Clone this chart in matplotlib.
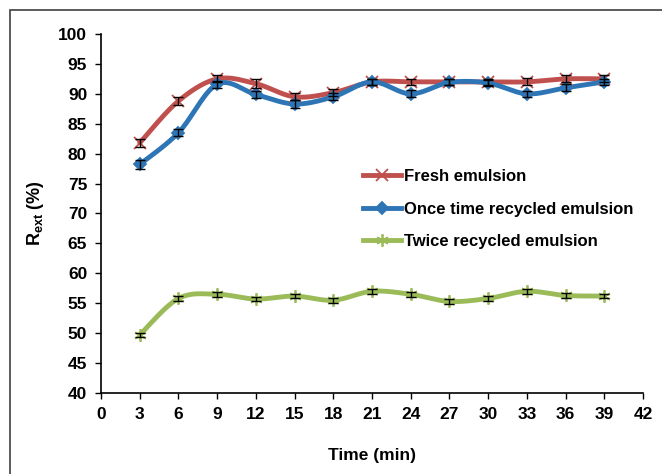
import numpy as np
import matplotlib
matplotlib.use("Agg")
import matplotlib.pyplot as plt
from matplotlib.patches import Rectangle

plt.rcParams['font.family'] = 'Liberation Sans'
plt.rcParams['font.weight'] = 'bold'
plt.rcParams['mathtext.fontset'] = 'custom'
plt.rcParams['mathtext.bf'] = 'Liberation Sans:bold'

# data
time = [3, 6, 9, 12, 15, 18, 21, 24, 27, 30, 33, 36, 39]
fresh = [81.8, 88.8, 92.5, 91.7, 89.5, 90.2, 92.0, 92.0, 92.0, 92.0, 92.0, 92.5, 92.5]
once = [78.2, 83.5, 91.6, 89.9, 88.3, 89.5, 92.0, 90.0, 91.9, 91.8, 90.0, 91.0, 92.0]
twice = [49.7, 55.8, 56.5, 55.7, 56.2, 55.5, 57.0, 56.5, 55.3, 55.8, 57.0, 56.3, 56.2]
err_fresh = [0.7, 0.6, 0.6, 0.7, 0.6, 0.6, 0.5, 0.5, 0.5, 0.5, 0.6, 0.6, 0.6]
err_once = [0.7, 0.6, 0.6, 0.6, 0.6, 0.6, 0.5, 0.6, 0.5, 0.5, 0.5, 0.6, 0.5]
err_twice = [0.4, 0.4, 0.4, 0.4, 0.4, 0.4, 0.4, 0.4, 0.4, 0.4, 0.4, 0.4, 0.4]
labels = ["Fresh emulsion", "Once time recycled emulsion", "Twice recycled emulsion"]


def smooth(x, y, n=20):
    # excel-like smoothed line (bezier through points)
    x = np.asarray(x, float)
    y = np.asarray(y, float)
    px = np.concatenate([[x[0]], x, [x[-1]]])
    py = np.concatenate([[y[0]], y, [y[-1]]])
    xs, ys = [], []
    t = np.linspace(0, 1, n)
    for i in range(1, len(px) - 2):
        p0 = np.array([px[i], py[i]])
        p3 = np.array([px[i + 1], py[i + 1]])
        p1 = p0 + (p3 - np.array([px[i - 1], py[i - 1]])) / 6
        p2 = p3 - (np.array([px[i + 2], py[i + 2]]) - p0) / 6
        b = ((1 - t) ** 3)[:, None] * p0 + (3 * (1 - t) ** 2 * t)[:, None] * p1 \
            + (3 * (1 - t) * t ** 2)[:, None] * p2 + (t ** 3)[:, None] * p3
        xs.extend(b[:, 0])
        ys.extend(b[:, 1])
    return xs, ys


fig = plt.figure(figsize=(6.62, 4.74), dpi=100)
ax = fig.add_axes([0.1526, 0.1709, 0.8187, 0.7574])

# outer frame
fig.patches.append(Rectangle((10 / 662, -0.1), 1.2, 1 - 10 / 474 + 0.1, transform=fig.transFigure,
                             fill=False, edgecolor='#404040', linewidth=1.2))

series = [
    (fresh, err_fresh, '#C0504D', 'x', 8, labels[0]),
    (once, err_once, '#2E75B6', 'D', 6, labels[1]),
    (twice, err_twice, '#9BBB59', (6, 2, 0), 9, labels[2]),
]

handles = []
for vals, err, col, mk, ms, lab in series:
    sx, sy = smooth(time, vals)
    ax.plot(sx, sy, color=col, linewidth=3.5, solid_capstyle='round', zorder=2)
    ax.errorbar(time, vals, yerr=err, fmt='none', ecolor='black', elinewidth=1,
                capsize=3.5, capthick=1, zorder=4)
    ax.plot(time, vals, linestyle='none', marker=mk, markersize=ms, color=col,
            markeredgecolor=col, markeredgewidth=1.3, zorder=3)
    h, = ax.plot([], [], color=col, linewidth=3.5, marker=mk, markersize=ms,
                 markeredgecolor=col, markeredgewidth=1.3, label=lab)
    handles.append(h)

ax.set_xlim(0, 42)
ax.set_ylim(40, 100)
ax.set_xticks(range(0, 43, 3))
ax.set_yticks(range(40, 101, 5))
ax.tick_params(direction='out', length=4, width=1, labelsize=12.5, pad=6)
for lab in ax.get_xticklabels() + ax.get_yticklabels():
    lab.set_fontweight('bold')
ax.spines['top'].set_visible(False)
ax.spines['right'].set_visible(False)
ax.spines['left'].set_linewidth(1.2)
ax.spines['bottom'].set_linewidth(1.2)

ax.set_xlabel('Time (min)', fontsize=12.5, fontweight='bold', labelpad=19)
ax.set_ylabel(r'R$_{\mathbf{ext}}$ (%)', fontsize=13, fontweight='bold', labelpad=9)

ax.legend(handles=handles, loc='upper left', bbox_to_anchor=(0.455, 0.665), frameon=False,
          handlelength=2.3, handletextpad=0.2, labelspacing=1.05,
          prop={'weight': 'bold', 'size': 12})

fig.savefig('out.png', dpi=100)
